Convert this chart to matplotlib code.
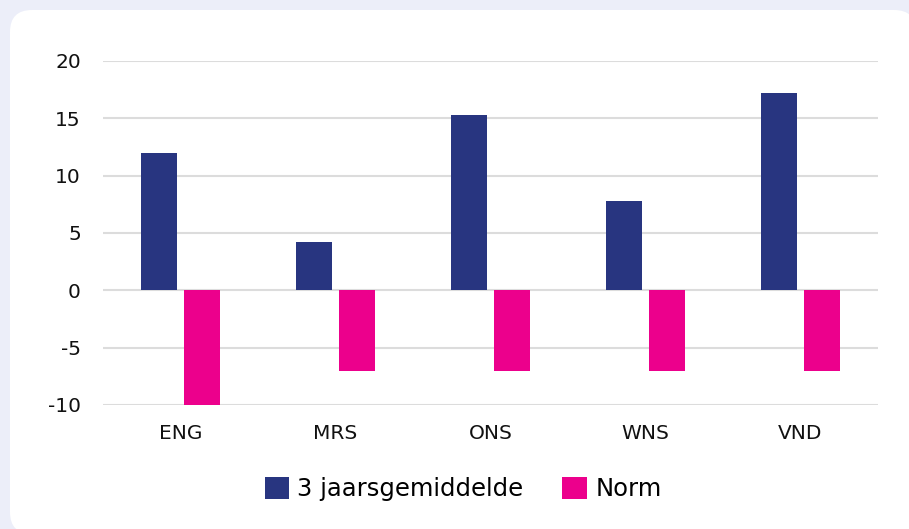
import matplotlib
matplotlib.use("Agg")
import matplotlib.pyplot as plt
import numpy as np
from matplotlib.patches import FancyBboxPatch

plt.rcParams["axes.unicode_minus"] = False

categories = ["ENG", "MRS", "ONS", "WNS", "VND"]
gemiddelde = [12.0, 4.2, 15.3, 7.8, 17.2]
norm = [-10, -7, -7, -7, -7]
yticks = [-10, -5, 0, 5, 10, 15, 20]

blue = "#283580"
pink = "#ec008c"
W, H = 909, 529
fig = plt.figure(figsize=(W / 100, H / 100), dpi=100)
fig.patch.set_facecolor("#eceef9")

bg = fig.add_axes([0, 0, 1, 1], zorder=-5)
bg.set_xlim(0, W)
bg.set_ylim(H, 0)
bg.axis("off")
bg.add_patch(FancyBboxPatch((10, 10), 906, 524,
                            boxstyle="round,pad=0,rounding_size=22",
                            facecolor="white", edgecolor="none"))

ax = fig.add_axes([103 / W, 1 - 405 / H, 775 / W, 344 / H], zorder=1)
ax.set_facecolor("none")
x = np.arange(len(categories))
bw = 0.23
off = 0.14
ax.bar(x - off, gemiddelde, bw, color=blue, label="3 jaarsgemiddelde", zorder=3)
ax.bar(x + off, norm, bw, color=pink, label="Norm", zorder=3)

ax.set_xlim(-0.5, len(categories) - 0.5)
ax.set_ylim(-10, 20)
ax.set_yticks(yticks)
ax.set_xticks(x)
ax.set_xticklabels(categories)
ax.grid(axis="y", color="#dcdcdc", linewidth=1.5, zorder=0)
ax.set_axisbelow(True)
for s in ax.spines.values():
    s.set_visible(False)
ax.tick_params(axis="both", length=0, labelsize=14.5, colors="#111111")
ax.tick_params(axis="y", pad=16)
ax.tick_params(axis="x", pad=14)

leg = fig.legend(loc="center", bbox_to_anchor=(463 / W, 1 - 489 / H), ncol=2,
                 frameon=False, handlelength=1.0, handleheight=1.0,
                 handletextpad=0.35, columnspacing=1.6,
                 prop={"size": 17.5})

fig.savefig("out.png", dpi=100, facecolor=fig.get_facecolor())
